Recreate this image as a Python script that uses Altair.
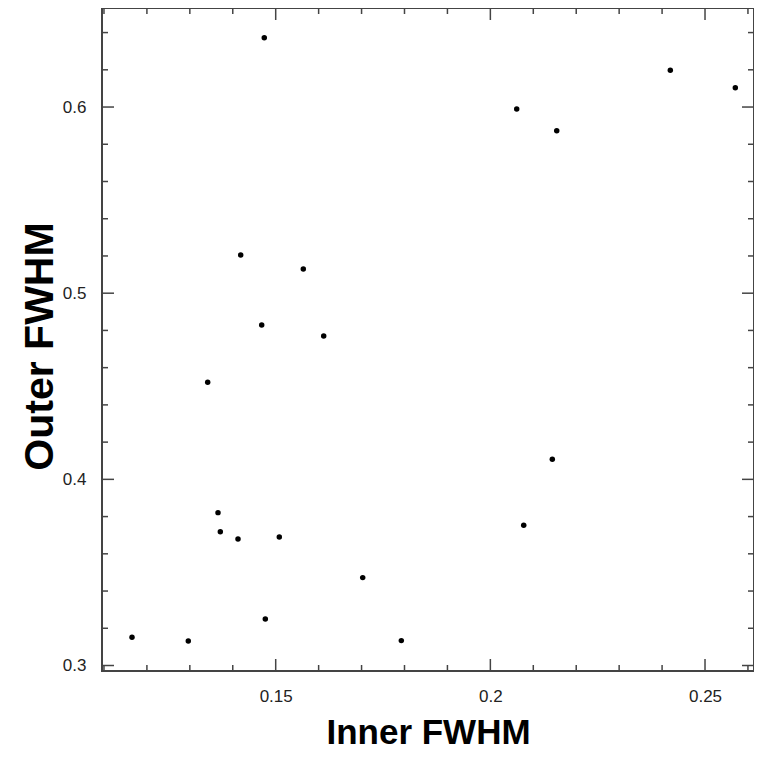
import altair as alt
import pandas as pd

inner_fwhm = [0.14734, 0.14185, 0.15643, 0.14674, 0.16118, 0.13416, 0.13656,
              0.13710, 0.14122, 0.15084, 0.14758, 0.11653, 0.12964, 0.21443,
              0.20777, 0.17027, 0.17926, 0.20614, 0.21546, 0.24192, 0.25706]
outer_fwhm = [0.63722, 0.52052, 0.51300, 0.48292, 0.47702, 0.45215, 0.38212,
              0.37191, 0.36799, 0.36906, 0.32503, 0.31520, 0.31321, 0.41079,
              0.37535, 0.34721, 0.31337, 0.59893, 0.58727, 0.61971, 0.61037]

x_major = [0.15, 0.2, 0.25]
x_minor = [0.11, 0.12, 0.13, 0.14, 0.16, 0.17, 0.18, 0.19, 0.21, 0.22, 0.23, 0.24, 0.26]
y_major = [0.3, 0.4, 0.5, 0.6]
y_minor = [0.32, 0.34, 0.36, 0.38, 0.42, 0.44, 0.46, 0.48, 0.52, 0.54, 0.56, 0.58, 0.62, 0.64]

W, H = 652, 663
x_dom = [0.10954, 0.26141]
y_dom = [0.29705, 0.6532]

xs = alt.Scale(domain=x_dom, nice=False, zero=False)
ys = alt.Scale(domain=y_dom, nice=False, zero=False)

pts = pd.DataFrame({"x": inner_fwhm, "y": outer_fwhm})
xmaj = pd.DataFrame({"x": x_major})
xmin = pd.DataFrame({"x": x_minor})
ymaj = pd.DataFrame({"y": y_major})
ymin = pd.DataFrame({"y": y_minor})

TC = "#444444"
TITLE_FONT = "Liberation Sans"

points = alt.Chart(pts).mark_circle(size=30, color="black", opacity=1).encode(
    x=alt.X("x:Q", scale=xs, title="Inner FWHM",
            axis=alt.Axis(values=x_major, format="~g",
                          ticks=False, tickSize=0, domain=False, grid=False,
                          labelFont="Liberation Sans", labelFontSize=17,
                          labelColor="#222222", labelPadding=30,
                          labelBaseline="alphabetic",
                          titleFont=TITLE_FONT, titleFontSize=35,
                          titleFontWeight="bold", titleColor="black",
                          titleBaseline="alphabetic", titleY=72)),
    y=alt.Y("y:Q", scale=ys, title="Outer FWHM",
            axis=alt.Axis(values=y_major, format="~g",
                          ticks=False, tickSize=0, domain=False, grid=False,
                          labelFont="Liberation Sans", labelFontSize=17,
                          labelColor="#222222", labelPadding=16,
                          titleFont=TITLE_FONT, titleFontSize=41,
                          titleFontWeight="bold", titleColor="black",
                          titleBaseline="alphabetic", titleAngle=270,
                          titleX=-50, titleY=338)),
)

def xticks(df, length):
    bottom = alt.Chart(df).mark_rule(color=TC, strokeWidth=1.5).encode(
        x=alt.X("x:Q", scale=xs, title="Inner FWHM"),
        y=alt.value(H), y2=alt.value(H - length))
    top = alt.Chart(df).mark_rule(color=TC, strokeWidth=1.5).encode(
        x=alt.X("x:Q", scale=xs, title="Inner FWHM"),
        y=alt.value(0), y2=alt.value(length))
    return [bottom, top]

def yticks(df, length):
    left = alt.Chart(df).mark_rule(color=TC, strokeWidth=1.5).encode(
        y=alt.Y("y:Q", scale=ys, title="Outer FWHM"),
        x=alt.value(0), x2=alt.value(length))
    right = alt.Chart(df).mark_rule(color=TC, strokeWidth=1.5).encode(
        y=alt.Y("y:Q", scale=ys, title="Outer FWHM"),
        x=alt.value(W - length), x2=alt.value(W))
    return [left, right]

layers = [points] + xticks(xmaj, 12) + xticks(xmin, 6) + yticks(ymaj, 12) + yticks(ymin, 6)

chart = alt.layer(*layers).properties(
    width=W, height=H,
    autosize=alt.AutoSizeParams(type="none"),
    padding={"left": 94, "top": 0, "right": 0, "bottom": 80},
    background="white",
).configure_view(stroke=TC, strokeWidth=2)

chart.save("out.html", embed_options={"renderer": "svg", "actions": False})
